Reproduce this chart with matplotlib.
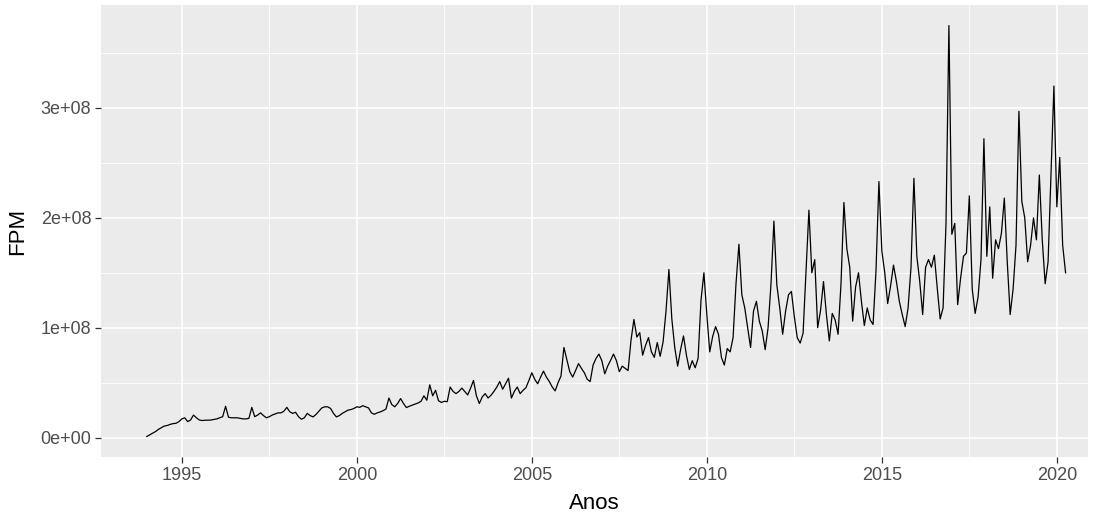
import numpy as np
import matplotlib.pyplot as plt

# FPM mensal (milhões de R$), jan/1994 a abr/2020
start_year = 1994
fpm_1994 = [1, 2.5, 4, 5.5, 7.5, 9, 10.5, 11, 12, 12.7, 13, 14.5]
fpm_1995 = [17, 18, 14.5, 16, 20.5, 18, 16, 15.5, 15.8, 15.8, 16, 16.5]
fpm_1996 = [17, 18, 19, 28.5, 18.5, 18, 18, 18, 17.5, 17, 17, 17.5]
fpm_1997 = [27.5, 19, 20.5, 22.5, 20, 18, 19, 20.5, 21.5, 22.5, 22.5, 24]
fpm_1998 = [27.5, 23.5, 22, 23, 19, 16.7, 18, 22, 20, 18.8, 21, 24]
fpm_1999 = [27, 28, 28, 26.5, 22, 18.8, 20, 22, 23.5, 25, 25.5, 26.5]
fpm_2000 = [28, 27.5, 29, 28, 27, 22.5, 21.2, 22.5, 23.3, 24.5, 26, 36]
fpm_2001 = [30, 28, 31, 35.5, 31, 27.3, 28.5, 29.5, 30.5, 31.5, 33, 38]
fpm_2002 = [34, 48, 38, 43, 33.5, 32, 33, 32.7, 46, 42, 40, 42]
fpm_2003 = [45, 42, 38.8, 45, 52, 38, 31, 37, 40, 36, 38.5, 42]
fpm_2004 = [46, 51, 44, 49, 54, 36, 42, 46, 40, 43, 45.5, 52]
fpm_2005 = [59, 53, 49, 55, 60.5, 55, 51, 46, 42.5, 50, 56, 82]
fpm_2006 = [71, 60, 55, 61, 67.3, 63, 59, 53, 51, 66, 72, 76]
fpm_2007 = [70, 58, 65, 70.3, 76, 70, 60, 65, 63, 61, 88.5, 107.5]
fpm_2008 = [91.5, 95.5, 75, 84, 91, 78, 73, 86.5, 74, 87, 115, 153]
fpm_2009 = [108, 82, 65, 80, 92.5, 75, 62, 70, 63.5, 72, 125, 150]
fpm_2010 = [112, 78, 92, 101, 94, 73, 66, 81, 78, 91, 140, 176]
fpm_2011 = [130, 118, 100, 82, 115, 124, 106, 97, 80, 100, 140, 197]
fpm_2012 = [139, 118, 94, 115, 130, 133, 110, 91, 86, 95, 150, 207]
fpm_2013 = [150, 162, 100, 116, 142, 112, 88, 113, 107, 94, 140, 214]
fpm_2014 = [172, 155, 106, 137, 150, 124, 102, 118, 107, 103, 152, 233]
fpm_2015 = [170, 150, 122, 138, 157, 142, 124, 112, 101, 118, 155, 236]
fpm_2016 = [165, 142, 112, 155, 162, 155, 166, 136, 108, 118, 195, 375]
fpm_2017 = [185, 195, 121, 145, 165, 168, 220, 135, 113, 128, 162, 272]
fpm_2018 = [165, 210, 145, 180, 172, 186, 218, 160, 112, 135, 175, 297]
fpm_2019 = [215, 200, 160, 175, 200, 180, 239, 180, 140, 160, 240, 320]
fpm_2020 = [210, 255, 175, 150]

fpm = (fpm_1994 + fpm_1995 + fpm_1996 + fpm_1997 + fpm_1998 + fpm_1999 +
       fpm_2000 + fpm_2001 + fpm_2002 + fpm_2003 + fpm_2004 + fpm_2005 +
       fpm_2006 + fpm_2007 + fpm_2008 + fpm_2009 + fpm_2010 + fpm_2011 +
       fpm_2012 + fpm_2013 + fpm_2014 + fpm_2015 + fpm_2016 + fpm_2017 +
       fpm_2018 + fpm_2019 + fpm_2020)
fpm = np.array(fpm) * 1e6
anos = start_year + np.arange(len(fpm)) / 12

x_ticks = [1995, 2000, 2005, 2010, 2015, 2020]
y_ticks = [0, 1e8, 2e8, 3e8]
y_labels = ["0e+00", "1e+08", "2e+08", "3e+08"]

plt.rcParams['font.family'] = ['Liberation Sans', 'DejaVu Sans']

fig = plt.figure(figsize=(10.94, 5.15), dpi=100)
ax = fig.add_axes([0.0923, 0.1126, 0.9022, 0.8776])
ax.set_facecolor('#EBEBEB')

ax.plot(anos, fpm, color='black', lw=0.9)
ax.set_xlim(1992.69, 2020.89)
ax.margins(y=0.05)

ax.set_xticks(x_ticks)
ax.set_xticks([1997.5, 2002.5, 2007.5, 2012.5, 2017.5], minor=True)
ax.set_yticks(y_ticks)
ax.set_yticklabels(y_labels)
ax.set_yticks([0.5e8, 1.5e8, 2.5e8, 3.5e8], minor=True)

ax.grid(which='major', color='white', lw=1.2)
ax.grid(which='minor', color='white', lw=0.6)
ax.set_axisbelow(True)
for s in ax.spines.values():
    s.set_visible(False)

ax.tick_params(which='major', length=4, width=0.9, color='#333333',
               labelsize=13, labelcolor='#4D4D4D', pad=3)
ax.tick_params(which='minor', length=0)

ax.set_xlabel("Anos", fontsize=16, labelpad=7)
ax.set_ylabel("FPM", fontsize=16, labelpad=9)

fig.savefig("out.png", dpi=100)
